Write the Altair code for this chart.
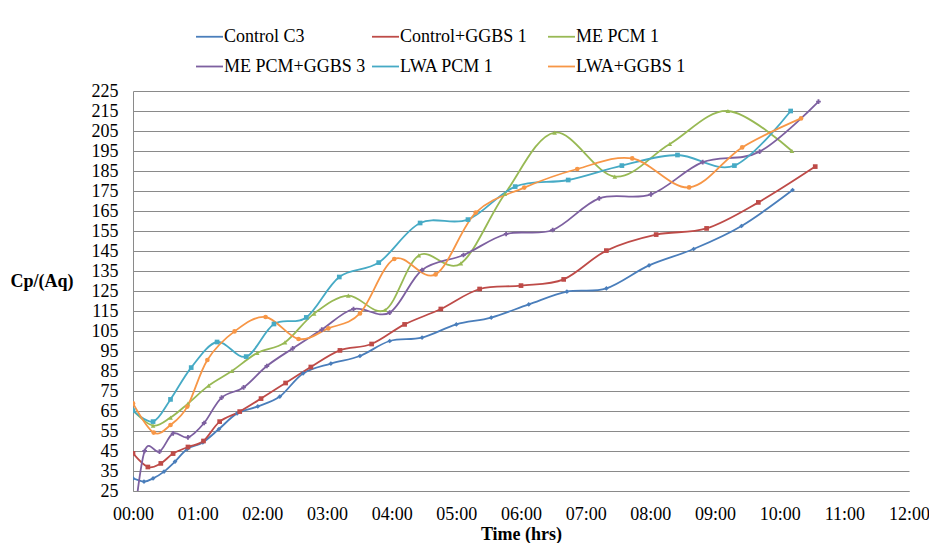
import altair as alt
import pandas as pd

series_names = ["Control C3", "Control+GGBS 1", "ME PCM 1",
                "ME PCM+GGBS 3", "LWA PCM 1", "LWA+GGBS 1"]
colors = ["#4A7EBB", "#BE4B48", "#98B954", "#7D60A0", "#46AAC5", "#F79646"]
shapes = ["diamond", "square", "triangle-up", "cross", "square", "circle"]

control_c3_h = [0, 0.17, 0.31, 0.48, 0.65, 0.84, 1.08, 1.33, 1.61, 1.93, 2.27, 2.63, 3.06,
                3.51, 3.97, 4.47, 5.00, 5.54, 6.12, 6.71, 7.32, 7.98, 8.67, 9.41, 10.20]
control_c3_v = [31.3, 29.7, 31.3, 34.7, 39.7, 46.0, 49.3, 56.0, 63.8, 67.3, 72.2, 83.8, 88.7,
                92.5, 100.0, 101.7, 108.3, 111.7, 118.3, 124.7, 126.3, 137.8, 146.0, 157.5, 175.5]

control_ggbs_h = [0, 0.23, 0.43, 0.62, 0.85, 1.09, 1.34, 1.65, 1.98, 2.36, 2.75, 3.20,
                  3.69, 4.20, 4.76, 5.36, 6.00, 6.66, 7.32, 8.09, 8.87, 9.67, 10.55]
control_ggbs_v = [43.8, 37.0, 38.8, 43.7, 47.0, 50.0, 59.7, 64.7, 71.2, 79.0, 87.0, 95.3,
                  98.5, 108.3, 116.0, 126.0, 127.7, 130.8, 145.2, 153.2, 156.3, 169.3, 187.2]

me_pcm_h = [0, 0.31, 0.58, 0.85, 1.17, 1.53, 1.92, 2.35, 2.80, 3.33, 3.90, 4.42, 5.07,
            5.75, 6.52, 7.45, 8.30, 9.20, 10.19]
me_pcm_v = [65.2, 57.7, 61.7, 68.7, 77.7, 85.0, 94.0, 99.3, 113.7, 122.7, 115.5, 142.8, 138.8,
            173.5, 204.2, 182.2, 198.5, 215.0, 195.0]

me_pcm_ggbs_h = [0, 0.18, 0.41, 0.62, 0.85, 1.10, 1.37, 1.71, 2.07, 2.47, 2.92, 3.41,
                 3.97, 4.47, 5.11, 5.77, 6.49, 7.21, 8.01, 8.81, 9.69, 10.60]
me_pcm_ggbs_v = [5.0, 45.0, 44.7, 53.8, 51.8, 59.0, 71.7, 76.8, 87.5, 96.3, 105.7, 116.0,
                 114.2, 135.5, 143.0, 153.5, 155.5, 171.3, 173.3, 189.4, 194.7, 219.7]

lwa_pcm_h = [0, 0.31, 0.58, 0.90, 1.30, 1.75, 2.18, 2.68, 3.19, 3.80, 4.44, 5.18,
             5.91, 6.73, 7.56, 8.42, 9.30, 10.17]
lwa_pcm_v = [65.2, 59.7, 70.8, 86.7, 99.5, 92.2, 108.5, 111.8, 132.0, 139.2, 159.0, 160.7,
             177.2, 180.5, 187.7, 193.0, 187.7, 215.0]

lwa_ggbs_h = [0, 0.32, 0.58, 0.84, 1.15, 1.57, 2.05, 2.56, 3.02, 3.51, 4.04, 4.68,
              5.30, 6.05, 6.87, 7.72, 8.60, 9.42, 10.33]
lwa_ggbs_v = [68.8, 54.2, 58.0, 67.2, 90.5, 104.8, 112.0, 101.0, 106.3, 113.8, 141.0, 133.3,
              164.2, 176.7, 186.0, 191.3, 176.8, 196.8, 211.3]

x_ticks = list(range(0, 13))
y_ticks = list(range(25, 226, 10))

all_h = [control_c3_h, control_ggbs_h, me_pcm_h, me_pcm_ggbs_h, lwa_pcm_h, lwa_ggbs_h]
all_v = [control_c3_v, control_ggbs_v, me_pcm_v, me_pcm_ggbs_v, lwa_pcm_v, lwa_ggbs_v]

rows = []
for name, col, shp, hs, vs in zip(series_names, colors, shapes, all_h, all_v):
    for i, (h, v) in enumerate(zip(hs, vs)):
        rows.append({"series": name, "col": col, "shp": shp, "t": h, "cp": v, "order": i})
df = pd.DataFrame(rows)

FONT = "Liberation Serif"
GRID = "#8A8A8A"

x_enc = alt.X("t:Q", scale=alt.Scale(domain=[0, 12], nice=False, zero=False),
              axis=alt.Axis(values=x_ticks, tickCount=30, grid=False, ticks=False,
                            labelOverlap=False,
                            labelExpr="(datum.value < 10 ? '0' : '') + datum.value + ':00'",
                            labelFont=FONT, labelFontSize=18, labelPadding=14,
                            labelColor="#000000", labelFlush=False,
                            domainColor=GRID, domainWidth=1,
                            title="Time (hrs)", titleFont=FONT, titleFontSize=18,
                            titleFontWeight="bold", titleColor="#000000",
                            titleY=43, titleBaseline="middle"))
y_enc = alt.Y("cp:Q", scale=alt.Scale(domain=[25, 225], nice=False, zero=False),
              axis=alt.Axis(values=y_ticks, tickCount=30, grid=True, gridColor=GRID,
                            gridWidth=1, gridOpacity=1, ticks=False, labelOverlap=False,
                            labelFlush=False, labelFont=FONT, labelFontSize=18,
                            labelPadding=15, labelColor="#000000", domainColor=GRID,
                            domainWidth=1, title="Cp/(Aq)", titleAngle=0,
                            titleAlign="left", titleBaseline="middle", titleX=-123,
                            titleY=190, titleFont=FONT, titleFontSize=18,
                            titleFontWeight="bold", titleColor="#000000"))

color_scale = alt.Scale(domain=series_names, range=colors)

lines = alt.Chart(df).mark_line(interpolate="cardinal", strokeWidth=1.8, clip=True).encode(
    x=x_enc, y=y_enc,
    color=alt.Color("series:N", scale=color_scale, sort=series_names,
                    legend=alt.Legend(title=None, orient="none", legendX=62, legendY=-69,
                                      columns=3, direction="horizontal", gridAlign="all",
                                      symbolType="M-1,0H1", symbolSize=729,
                                      symbolStrokeWidth=1.8, labelFontSize=18,
                                      labelFont=FONT, labelColor="#000000",
                                      labelOffset=0, columnPadding=2, rowPadding=6,
                                      padding=0, labelLimit=300)),
    order="order:Q",
)

points = alt.Chart(df).mark_point(filled=True, size=22, opacity=1, clip=True).encode(
    x="t:Q", y="cp:Q",
    color=alt.Color("col:N", scale=None),
    shape=alt.Shape("shp:N", scale=None),
)

chart = alt.layer(lines, points).properties(
    width=776, height=400,
    autosize=alt.AutoSizeParams(type="none"),
    padding={"left": 125, "top": 83, "right": 20, "bottom": 52},
).configure(font=FONT).configure_axis(labelFont=FONT, titleFont=FONT).configure_legend(
    labelFont=FONT).configure_view(stroke=None)

chart.save("out.html", embed_options={"renderer": "svg", "actions": False})
